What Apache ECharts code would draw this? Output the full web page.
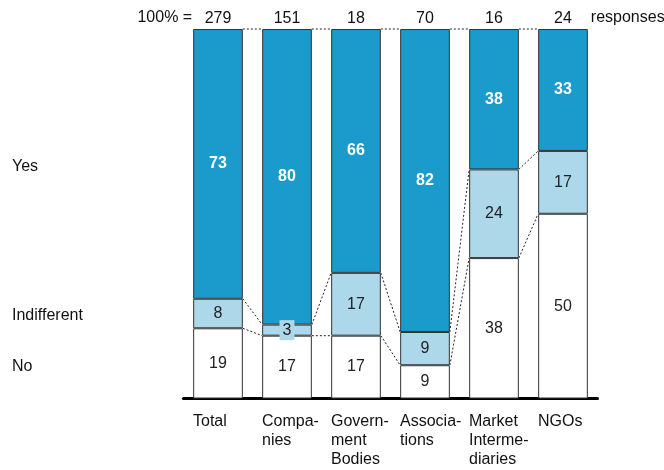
<!DOCTYPE html>
<html>
<head>
<meta charset="utf-8">
<script src="https://cdn.jsdelivr.net/npm/echarts@6/dist/echarts.min.js"></script>
<style>
html,body{margin:0;padding:0;background:#fff;}
#c{width:664px;height:470px;}
</style>
</head>
<body>
<div id="c"></div>
<script>
const categories = ['Total', 'Companies', 'Government Bodies', 'Associations', 'Market Intermediaries', 'NGOs'];
const axisLabels = ['Total', 'Compa-\nnies', 'Govern-\nment\nBodies', 'Associa-\ntions', 'Market\nInterme-\ndiaries', 'NGOs'];
const noValues = [19, 17, 17, 9, 38, 50];
const indifferentValues = [8, 3, 17, 9, 24, 17];
const yesValues = [73, 80, 66, 82, 38, 33];
const responses = [279, 151, 18, 70, 16, 24];
const seriesNames = ['No', 'Indifferent', 'Yes'];

const FONT = 'Liberation Sans, Arial, sans-serif';
const FS = 16;
const BAR_RATIO = 0.72;
const BLUE = '#1b9bcb';
const LIGHT = '#acd8ea';
const BORDER = '#333';

const chart = echarts.init(document.getElementById('c'));

function segData(values, color) {
  return values.map(v => {
    const item = { value: v };
    if (v < 5) {
      item.label = { backgroundColor: color, padding: [2, 3] };
    }
    return item;
  });
}

const barBase = {
  type: 'bar',
  stack: 'all',
  barWidth: (BAR_RATIO * 100) + '%',
  emphasis: { disabled: true },
  silent: true
};

const levels = categories.map((c, i) => [noValues[i], noValues[i] + indifferentValues[i], noValues[i] + indifferentValues[i] + yesValues[i]]);

const option = {
  animation: false,
  textStyle: { fontFamily: FONT },
  grid: { left: 183.5, right: 66.5, top: 29, bottom: 71.5, containLabel: false },
  xAxis: {
    type: 'category',
    data: categories,
    axisLine: { show: true, lineStyle: { color: '#000', width: 3 } },
    axisTick: { show: false },
    axisLabel: {
      interval: 0,
      margin: 14,
      align: 'center',
      verticalAlign: 'top',
      formatter: (v, i) => axisLabels[i].split('\n').map(s => '{a|' + s + '}').join('\n'),
      rich: { a: { width: 50, align: 'left', fontSize: FS, lineHeight: 19, color: '#111', fontFamily: FONT } }
    }
  },
  yAxis: { type: 'value', min: 0, max: 100, show: false },
  series: [
    Object.assign({}, barBase, {
      name: seriesNames[0],
      data: segData(noValues, '#fff'),
      itemStyle: { color: '#fff', borderColor: BORDER, borderWidth: 1 },
      label: { show: true, position: 'inside', color: '#222', fontSize: FS, fontFamily: FONT }
    }),
    Object.assign({}, barBase, {
      name: seriesNames[1],
      data: segData(indifferentValues, LIGHT),
      itemStyle: { color: LIGHT, borderColor: BORDER, borderWidth: 1 },
      label: { show: true, position: 'inside', color: '#222', fontSize: FS, fontFamily: FONT }
    }),
    Object.assign({}, barBase, {
      name: seriesNames[2],
      data: segData(yesValues, BLUE),
      itemStyle: { color: BLUE, borderColor: BORDER, borderWidth: 1 },
      label: { show: true, position: 'inside', color: '#fff', fontWeight: 'bold', fontSize: FS, fontFamily: FONT }
    }),
    {
      type: 'scatter',
      symbolSize: 0,
      silent: true,
      itemStyle: { opacity: 1 },
      data: categories.map((c, i) => [i, levels[i][2]]),
      label: {
        show: true, position: 'top', distance: 2, color: '#111', fontSize: FS, fontFamily: FONT,
        formatter: p => String(responses[p.dataIndex])
      }
    },
    {
      type: 'custom',
      silent: true,
      data: categories.slice(0, -1).map((c, i) => [i]),
      renderItem: function (params, api) {
        const i = api.value(0);
        const band = api.size([1, 0])[0];
        const half = band * BAR_RATIO / 2;
        const children = [];
        for (let k = 0; k < 3; k++) {
          const a = api.coord([i, levels[i][k]]);
          const b = api.coord([i + 1, levels[i + 1][k]]);
          children.push({
            type: 'line',
            shape: { x1: a[0] + half, y1: a[1], x2: b[0] - half, y2: b[1] },
            style: { stroke: '#222', lineWidth: 1, lineDash: [2, 2] }
          });
        }
        return { type: 'group', children: children };
      }
    }
  ]
};

chart.setOption(option);

// Row labels aligned with the Total bar segment middles
const yYes = chart.convertToPixel({ gridIndex: 0 }, [0, (levels[0][1] + levels[0][2]) / 2])[1];
const yInd = chart.convertToPixel({ gridIndex: 0 }, [0, (levels[0][0] + levels[0][1]) / 2])[1];
const yNo = chart.convertToPixel({ gridIndex: 0 }, [0, levels[0][0] / 2])[1];
const yTop = chart.convertToPixel({ gridIndex: 0 }, [0, 100])[1];
const xFirst = chart.convertToPixel({ gridIndex: 0 }, [0, 0])[0];
const xLast = chart.convertToPixel({ gridIndex: 0 }, [categories.length - 1, 0])[0];
const band = chart.getModel().getComponent('xAxis', 0).axis.getBandWidth();
const half = band * BAR_RATIO / 2;

const txt = (text, x, y, align) => ({
  type: 'text', x: x, y: y, silent: true,
  style: { text: text, fill: '#111', font: FS + 'px ' + FONT, textAlign: align, textVerticalAlign: 'middle' }
});

chart.setOption({
  graphic: [
    txt('Yes', 12, yYes + 3, 'left'),
    txt('Indifferent', 12, yInd + 2, 'left'),
    txt('No', 12, yNo + 3, 'left'),
    txt('100% =', xFirst - half - 1, yTop - 11, 'right'),
    txt('responses', xLast + half + 3, yTop - 11, 'left')
  ]
});
</script>
</body>
</html>
